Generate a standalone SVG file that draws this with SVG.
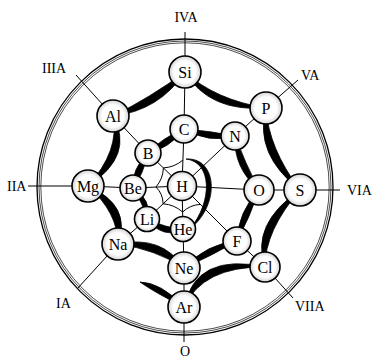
<svg xmlns="http://www.w3.org/2000/svg" width="372" height="358" viewBox="0 0 372 358">
<defs>
<radialGradient id="shade" cx="0.5" cy="0.5" r="0.5">
<stop offset="0.68" stop-color="#ffffff"/>
<stop offset="1" stop-color="#d2d2d2"/>
</radialGradient>
<style>
.ring{fill:none;stroke:#000}
.thin{fill:none;stroke:#000;stroke-width:1}
.thick{fill:#000;stroke:#000;stroke-width:0.8;stroke-linejoin:round}
.node circle{fill:url(#shade);stroke:#000;stroke-width:1.6}
.node text{font-family:"Liberation Serif","DejaVu Serif",serif;font-size:16px;text-anchor:middle;fill:#000}
.grp{font-family:"Liberation Serif","DejaVu Serif",serif;font-size:14px;fill:#000}
</style>
</defs>
<rect width="372" height="358" fill="#fff"/>
<g id="frame">
<circle class="ring" cx="185" cy="187" r="148" stroke-width="1.3"/>
<circle class="ring" cx="185" cy="187" r="146" stroke-width="0.7"/>
<circle class="ring" cx="185" cy="187" r="144.2" stroke-width="0.7"/>
</g>
<g id="connectors">
<g id="radials" class="thin">
<polyline points="185,32 185,72 184,129 182,186"/>
<polyline points="76,75 113,116 148,153 182,186"/>
<polyline points="28,186 88,186 133,188 182,186"/>
<polyline points="77,289 118,244 147,219 182,186"/>
<polyline points="184,342 184,307 184,268 183,229 182,186"/>
<polyline points="293,298 265,267 237,241 182,186"/>
<polyline points="340,190 300,190 259,190 182,186"/>
<polyline points="298,80 266,108 235,136 182,186"/>
<path d="M183,160 Q174.5,167.3 163.4,167.9 Q163,178.8 156,187 Q163,194 163.1,203.8 Q174.3,204.6 182.6,212 Q190.1,204.9 200.4,204.4"/>
</g>
<g id="spiral" class="thick">
<path d="M186,159 C217,157 221,204 190,229 C213,201 212,162 186,159Z"/>
<path d="M183,229 Q166.6,228.2 147,219 Q163.4,239.8 183,229Z"/>
<path d="M147,219 Q152.6,200.4 133,188 Q143.4,204.6 147,219Z"/>
<path d="M133,188 Q143.5,174.1 148,153 Q131.5,168.9 133,188Z"/>
<path d="M148,153 Q169.6,148.4 184,129 Q162.4,137.6 148,153Z"/>
<path d="M184,129 Q209.6,143.9 235,136 Q211.4,131.1 184,129Z"/>
<path d="M235,136 Q233.1,167.6 259,190 Q244.9,162.4 235,136Z"/>
<path d="M259,190 Q238,211.9 237,241 Q250,217.1 259,190Z"/>
<path d="M237,241 Q206.5,243.7 184,268 Q212.5,255.3 237,241Z"/>
<path d="M184,268 Q161.7,234.5 118,244 Q156.3,249.5 184,268Z"/>
<path d="M118,244 Q132.1,205.3 88,186 Q117.9,212.7 118,244Z"/>
<path d="M88,186 Q135,155.7 113,116 Q120,150.3 88,186Z"/>
<path d="M113,116 Q159.2,110.8 185,72 Q150.8,97.2 113,116Z"/>
<path d="M185,72 Q209.2,112.4 266,108 Q214.8,99.6 185,72Z"/>
<path d="M266,108 Q253.6,154.1 300,190 Q268.4,147.9 266,108Z"/>
<path d="M300,190 Q250.2,224.2 265,267 Q264.8,230.8 300,190Z"/>
<path d="M265,267 Q196,251.8 184,307 Q203,266.2 265,267Z"/>
<path d="M184,307 Q161,282.3 140,282 Q155,292.7 184,307Z"/>
</g>
</g>
<g id="H" class="node"><circle cx="182" cy="186" r="14.5"/><text x="182" y="191.5">H</text></g>
<g id="He" class="node"><circle cx="183" cy="229" r="12.5"/><text x="183" y="234.5">He</text></g>
<g id="Li" class="node"><circle cx="147" cy="219" r="12.5"/><text x="147" y="224.5">Li</text></g>
<g id="Be" class="node"><circle cx="133" cy="188" r="13"/><text x="133" y="193.5">Be</text></g>
<g id="B" class="node"><circle cx="148" cy="153" r="13"/><text x="148" y="158.5">B</text></g>
<g id="C" class="node"><circle cx="184" cy="129" r="14"/><text x="184" y="134.5">C</text></g>
<g id="N" class="node"><circle cx="235" cy="136" r="14"/><text x="235" y="141.5">N</text></g>
<g id="O" class="node"><circle cx="259" cy="190" r="15"/><text x="259" y="195.5">O</text></g>
<g id="F" class="node"><circle cx="237" cy="241" r="14"/><text x="237" y="246.5">F</text></g>
<g id="Ne" class="node"><circle cx="184" cy="268" r="16"/><text x="184" y="273.5">Ne</text></g>
<g id="Na" class="node"><circle cx="118" cy="244" r="16"/><text x="118" y="249.5">Na</text></g>
<g id="Mg" class="node"><circle cx="88" cy="186" r="16"/><text x="88" y="191.5">Mg</text></g>
<g id="Al" class="node"><circle cx="113" cy="116" r="16"/><text x="113" y="121.5">Al</text></g>
<g id="Si" class="node"><circle cx="185" cy="72" r="16"/><text x="185" y="77.5">Si</text></g>
<g id="P" class="node"><circle cx="266" cy="108" r="16"/><text x="266" y="113.5">P</text></g>
<g id="S" class="node"><circle cx="300" cy="190" r="16"/><text x="300" y="195.5">S</text></g>
<g id="Cl" class="node"><circle cx="265" cy="267" r="15"/><text x="265" y="272.5">Cl</text></g>
<g id="Ar" class="node"><circle cx="184" cy="307" r="16"/><text x="184" y="312.5">Ar</text></g>
<g id="labels" class="grp">
<text x="186" y="22" text-anchor="middle">IVA</text>
<text x="301" y="80">VA</text>
<text x="42" y="73">IIIA</text>
<text x="7" y="191">IIA</text>
<text x="347" y="195">VIA</text>
<text x="295" y="311">VIIA</text>
<text x="56" y="308">IA</text>
<text x="185" y="356" text-anchor="middle">O</text>
</g>
</svg>
